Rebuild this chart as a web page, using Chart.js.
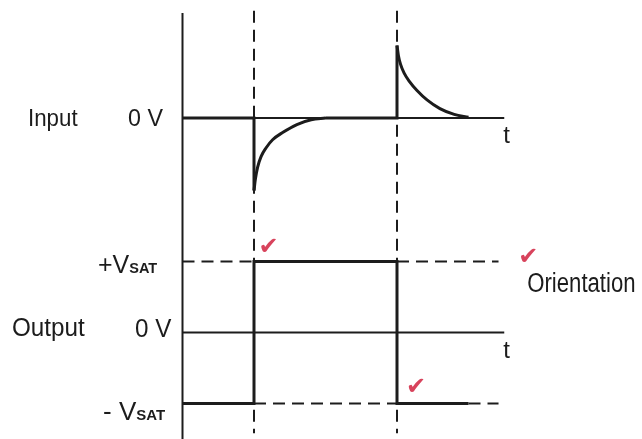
<!DOCTYPE html>
<html><head><meta charset="utf-8">
<script src="https://cdn.jsdelivr.net/npm/chart.js@4.4.1/dist/chart.umd.min.js"></script>
<style>html,body{margin:0;padding:0;background:#fff;overflow:hidden}#wrap{position:relative;width:642px;height:439px}</style>
</head><body><div id="wrap"><canvas id="c" width="642" height="439"></canvas></div>
<script>
// ---- time axis: switching edges happen at t = 1 and t = 3 ----
const EDGE_TIMES = [1, 3];
const TIME_AXIS = [0, 4.5];          // drawn length of each 0 V time axis
const REF_END = 4.42;                // end of dashed saturation reference lines
// ---- Input (differentiated pulse), normalised to spike height ----
const IN_FLAT_1 = [[0, 0], [1, 0], [1, -1]];
const IN_RECOVERY = [[1, -1], [1.02, -0.84], [1.05, -0.68], [1.1, -0.53], [1.17, -0.41],
                     [1.26, -0.30], [1.4, -0.20], [1.6, -0.09], [1.8, -0.025], [2.0, 0]];
const IN_FLAT_2 = [[2, 0], [3, 0], [3, 1]];
const IN_DECAY = [[3, 1], [3.02, 0.86], [3.05, 0.74], [3.1, 0.62], [3.17, 0.51],
                  [3.28, 0.38], [3.42, 0.25], [3.6, 0.13], [3.8, 0.05], [4.0, 0.01]];
// ---- Output (comparator), +VSAT = 1, -VSAT = -1 ----
const OUT_WAVE = [[0, -1], [1, -1], [1, 1], [3, 1], [3, -1], [4, -1]];
const OUT_HIGH_REF = [[[0, 1], [1, 1]], [[3, 1], [REF_END, 1]]];
const OUT_LOW_REF = [[[1, -1], [3, -1]], [[4, -1], [REF_END, -1]]];
// ---- text ----
const PANEL_NAMES = ['Input', 'Output'];
const LEVEL_NAMES = ['0 V', '+V', '0 V', '- V'];
const SUBSCRIPT = 'SAT';
const TIME_NAME = 't';
const NOTE = 'Orientation';
const CHECK = '\u2714';

const INK = '#1c1c1c';
const RED = '#d8435c';
const pts = a => a.map(p => ({x: p[0], y: p[1]}));
function ds(data, axis, o) {
  return Object.assign({data: pts(data), yAxisID: axis, showLine: true, pointRadius: 0,
    borderColor: INK, borderWidth: 3, tension: 0, clip: false, borderCapStyle: 'butt',
    borderJoinStyle: 'miter'}, o || {});
}
const DASH = {borderWidth: 2, borderDash: [12, 7]};
const datasets = [];
// vertical axis
datasets.push(ds([[0, 4.5], [0, -1.5]], 'yOut', {borderWidth: 2}));
// edge markers
EDGE_TIMES.forEach(t => datasets.push(ds([[t, 4.53], [t, -1.42]], 'yOut', DASH)));
// time axes
datasets.push(ds([[TIME_AXIS[0], 0], [TIME_AXIS[1], 0]], 'yIn', {borderWidth: 1.8}));
datasets.push(ds([[TIME_AXIS[0], 0], [TIME_AXIS[1], 0]], 'yOut', {borderWidth: 1.8}));
// input
datasets.push(ds(IN_FLAT_1, 'yIn'));
datasets.push(ds(IN_RECOVERY, 'yIn', {cubicInterpolationMode: 'monotone'}));
datasets.push(ds(IN_FLAT_2, 'yIn'));
datasets.push(ds(IN_DECAY, 'yIn', {cubicInterpolationMode: 'monotone'}));
// output
OUT_HIGH_REF.concat(OUT_LOW_REF).forEach(seg => datasets.push(ds(seg, 'yOut', DASH)));
datasets.push(ds(OUT_WAVE, 'yOut'));

function txt(ctx, s, x, y, font, sx, align, color) {
  ctx.save();
  ctx.font = font; ctx.fillStyle = color || INK; ctx.textBaseline = 'alphabetic';
  const w = ctx.measureText(s).width * sx;
  const left = align === 'right' ? x - w : (align === 'center' ? x - w / 2 : x);
  ctx.translate(left, y); ctx.scale(sx, 1); ctx.textAlign = 'left';
  ctx.fillText(s, 0, 0);
  ctx.restore();
  return left + w;
}
const F = 'Liberation Sans, Arial, sans-serif';
const labelPlugin = {
  id: 'labels',
  afterDatasetsDraw(chart) {
    const ctx = chart.ctx, X = chart.scales.x, YI = chart.scales.yIn, YO = chart.scales.yOut;
    const x0 = X.getPixelForValue(0), xe = X.getPixelForValue(TIME_AXIS[1]);
    txt(ctx, PANEL_NAMES[0], x0 - 154.5, YI.getPixelForValue(0) + 8, '24px ' + F, 0.93);
    txt(ctx, LEVEL_NAMES[0], x0 - 19.5, YI.getPixelForValue(0) + 8, '24px ' + F, 0.97, 'right');
    txt(ctx, PANEL_NAMES[1], x0 - 170.5, YO.getPixelForValue(0) + 4, '25px ' + F, 0.97);
    txt(ctx, LEVEL_NAMES[2], x0 - 11, YO.getPixelForValue(0) + 4.5, '25px ' + F, 0.97, 'right');
    let e = txt(ctx, LEVEL_NAMES[1], x0 - 84.5, YO.getPixelForValue(1) + 11.5, '25px ' + F, 1);
    txt(ctx, SUBSCRIPT, e, YO.getPixelForValue(1) + 11.5, 'bold 14.5px ' + F, 1);
    e = txt(ctx, LEVEL_NAMES[3], x0 - 79.5, YO.getPixelForValue(-1) + 16.5, '26px ' + F, 1);
    txt(ctx, SUBSCRIPT, e, YO.getPixelForValue(-1) + 16.5, 'bold 15px ' + F, 1);
    txt(ctx, TIME_NAME, xe - 1, YI.getPixelForValue(0) + 25, '24px ' + F, 1);
    txt(ctx, TIME_NAME, xe - 1, YO.getPixelForValue(0) + 25.5, '24px ' + F, 1);
    txt(ctx, NOTE, xe + 23, YO.getPixelForValue(1) + 30.5, '27px ' + F, 0.82);
    const ck = '24px DejaVu Sans';
    txt(ctx, CHECK, X.getPixelForValue(EDGE_TIMES[0]) + 14.5, YO.getPixelForValue(1) - 7.5, ck, 1, 'center', RED);
    txt(ctx, CHECK, xe + 24, YO.getPixelForValue(1) + 2.5, ck, 1, 'center', RED);
    txt(ctx, CHECK, X.getPixelForValue(EDGE_TIMES[1]) + 19, YO.getPixelForValue(-1) - 9.5, ck, 1, 'center', RED);
  }
};

new Chart(document.getElementById('c'), {
  type: 'scatter',
  data: {datasets},
  options: {
    responsive: false, animation: false, devicePixelRatio: 1,
    layout: {padding: {left: 182.5, right: 30.5, top: 10, bottom: 0}},
    plugins: {legend: {display: false}, tooltip: {enabled: false}},
    scales: {
      x: {type: 'linear', min: 0, max: 6, display: false},
      yIn: {type: 'linear', min: -4.428, max: 1.49, display: false},
      yOut: {type: 'linear', min: -1.5, max: 4.542, display: false}
    }
  },
  plugins: [labelPlugin]
});
</script></body></html>
